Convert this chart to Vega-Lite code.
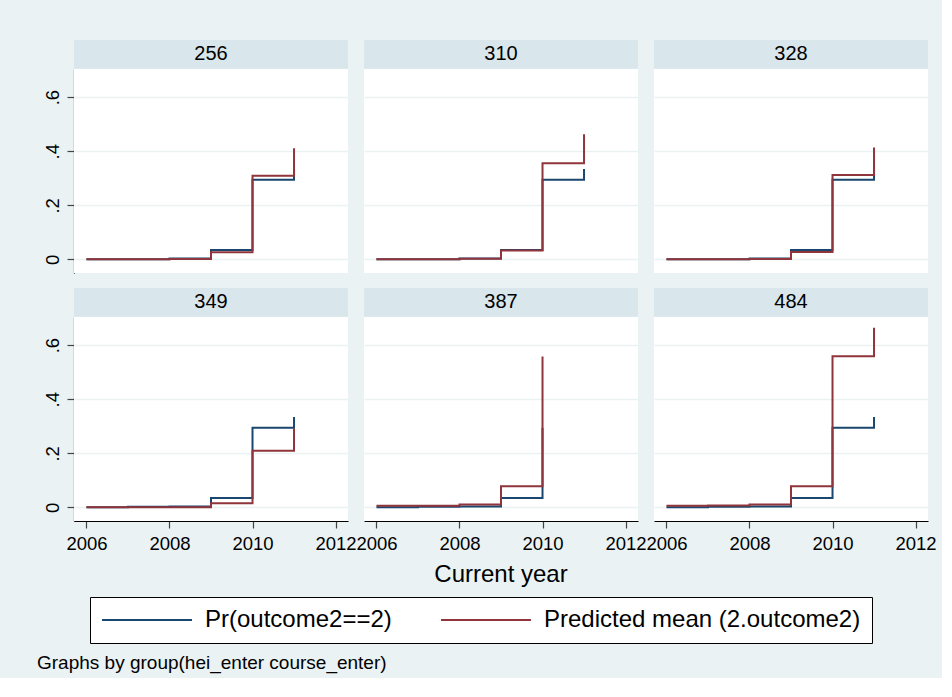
{
  "$schema": "https://vega.github.io/schema/vega-lite/v6.json",
  "background": "#EAF2F3",
  "padding": {"left": 37, "top": 30, "right": 5, "bottom": 5},
  "title": {"text": "Graphs by group(hei_enter course_enter)", "orient": "bottom", "anchor": "start", "frame": "bounds", "font": "Liberation Sans", "fontSize": 19, "fontWeight": "normal", "color": "black", "offset": 10, "dx": -6},
  "data": {"values": [
    {"group": "256", "year": 2006, "series": "Pr(outcome2==2)", "value": 0.001},
    {"group": "256", "year": 2007, "series": "Pr(outcome2==2)", "value": 0.001},
    {"group": "256", "year": 2008, "series": "Pr(outcome2==2)", "value": 0.004},
    {"group": "256", "year": 2009, "series": "Pr(outcome2==2)", "value": 0.035},
    {"group": "256", "year": 2010, "series": "Pr(outcome2==2)", "value": 0.295},
    {"group": "256", "year": 2011, "series": "Pr(outcome2==2)", "value": 0.334},
    {"group": "256", "year": 2006, "series": "Predicted mean (2.outcome2)", "value": 0.001},
    {"group": "256", "year": 2007, "series": "Predicted mean (2.outcome2)", "value": 0.001},
    {"group": "256", "year": 2008, "series": "Predicted mean (2.outcome2)", "value": 0.002},
    {"group": "256", "year": 2009, "series": "Predicted mean (2.outcome2)", "value": 0.027},
    {"group": "256", "year": 2010, "series": "Predicted mean (2.outcome2)", "value": 0.309},
    {"group": "256", "year": 2011, "series": "Predicted mean (2.outcome2)", "value": 0.411},
    {"group": "310", "year": 2006, "series": "Pr(outcome2==2)", "value": 0.001},
    {"group": "310", "year": 2007, "series": "Pr(outcome2==2)", "value": 0.001},
    {"group": "310", "year": 2008, "series": "Pr(outcome2==2)", "value": 0.004},
    {"group": "310", "year": 2009, "series": "Pr(outcome2==2)", "value": 0.035},
    {"group": "310", "year": 2010, "series": "Pr(outcome2==2)", "value": 0.295},
    {"group": "310", "year": 2011, "series": "Pr(outcome2==2)", "value": 0.334},
    {"group": "310", "year": 2006, "series": "Predicted mean (2.outcome2)", "value": 0.001},
    {"group": "310", "year": 2007, "series": "Predicted mean (2.outcome2)", "value": 0.001},
    {"group": "310", "year": 2008, "series": "Predicted mean (2.outcome2)", "value": 0.003},
    {"group": "310", "year": 2009, "series": "Predicted mean (2.outcome2)", "value": 0.033},
    {"group": "310", "year": 2010, "series": "Predicted mean (2.outcome2)", "value": 0.356},
    {"group": "310", "year": 2011, "series": "Predicted mean (2.outcome2)", "value": 0.463},
    {"group": "328", "year": 2006, "series": "Pr(outcome2==2)", "value": 0.001},
    {"group": "328", "year": 2007, "series": "Pr(outcome2==2)", "value": 0.001},
    {"group": "328", "year": 2008, "series": "Pr(outcome2==2)", "value": 0.004},
    {"group": "328", "year": 2009, "series": "Pr(outcome2==2)", "value": 0.035},
    {"group": "328", "year": 2010, "series": "Pr(outcome2==2)", "value": 0.295},
    {"group": "328", "year": 2011, "series": "Pr(outcome2==2)", "value": 0.334},
    {"group": "328", "year": 2006, "series": "Predicted mean (2.outcome2)", "value": 0.001},
    {"group": "328", "year": 2007, "series": "Predicted mean (2.outcome2)", "value": 0.001},
    {"group": "328", "year": 2008, "series": "Predicted mean (2.outcome2)", "value": 0.002},
    {"group": "328", "year": 2009, "series": "Predicted mean (2.outcome2)", "value": 0.028},
    {"group": "328", "year": 2010, "series": "Predicted mean (2.outcome2)", "value": 0.312},
    {"group": "328", "year": 2011, "series": "Predicted mean (2.outcome2)", "value": 0.414},
    {"group": "349", "year": 2006, "series": "Pr(outcome2==2)", "value": 0.001},
    {"group": "349", "year": 2007, "series": "Pr(outcome2==2)", "value": 0.003},
    {"group": "349", "year": 2008, "series": "Pr(outcome2==2)", "value": 0.004},
    {"group": "349", "year": 2009, "series": "Pr(outcome2==2)", "value": 0.035},
    {"group": "349", "year": 2010, "series": "Pr(outcome2==2)", "value": 0.295},
    {"group": "349", "year": 2011, "series": "Pr(outcome2==2)", "value": 0.334},
    {"group": "349", "year": 2006, "series": "Predicted mean (2.outcome2)", "value": 0.001},
    {"group": "349", "year": 2007, "series": "Predicted mean (2.outcome2)", "value": 0.001},
    {"group": "349", "year": 2008, "series": "Predicted mean (2.outcome2)", "value": 0.001},
    {"group": "349", "year": 2009, "series": "Predicted mean (2.outcome2)", "value": 0.016},
    {"group": "349", "year": 2010, "series": "Predicted mean (2.outcome2)", "value": 0.21},
    {"group": "349", "year": 2011, "series": "Predicted mean (2.outcome2)", "value": 0.293},
    {"group": "387", "year": 2006, "series": "Pr(outcome2==2)", "value": 0.001},
    {"group": "387", "year": 2007, "series": "Pr(outcome2==2)", "value": 0.003},
    {"group": "387", "year": 2008, "series": "Pr(outcome2==2)", "value": 0.004},
    {"group": "387", "year": 2009, "series": "Pr(outcome2==2)", "value": 0.035},
    {"group": "387", "year": 2010, "series": "Pr(outcome2==2)", "value": 0.295},
    {"group": "387", "year": 2006, "series": "Predicted mean (2.outcome2)", "value": 0.006},
    {"group": "387", "year": 2007, "series": "Predicted mean (2.outcome2)", "value": 0.006},
    {"group": "387", "year": 2008, "series": "Predicted mean (2.outcome2)", "value": 0.011},
    {"group": "387", "year": 2009, "series": "Predicted mean (2.outcome2)", "value": 0.078},
    {"group": "387", "year": 2010, "series": "Predicted mean (2.outcome2)", "value": 0.558},
    {"group": "484", "year": 2006, "series": "Pr(outcome2==2)", "value": 0.001},
    {"group": "484", "year": 2007, "series": "Pr(outcome2==2)", "value": 0.003},
    {"group": "484", "year": 2008, "series": "Pr(outcome2==2)", "value": 0.004},
    {"group": "484", "year": 2009, "series": "Pr(outcome2==2)", "value": 0.035},
    {"group": "484", "year": 2010, "series": "Pr(outcome2==2)", "value": 0.295},
    {"group": "484", "year": 2011, "series": "Pr(outcome2==2)", "value": 0.334},
    {"group": "484", "year": 2006, "series": "Predicted mean (2.outcome2)", "value": 0.006},
    {"group": "484", "year": 2007, "series": "Predicted mean (2.outcome2)", "value": 0.007},
    {"group": "484", "year": 2008, "series": "Predicted mean (2.outcome2)", "value": 0.011},
    {"group": "484", "year": 2009, "series": "Predicted mean (2.outcome2)", "value": 0.078},
    {"group": "484", "year": 2010, "series": "Predicted mean (2.outcome2)", "value": 0.559},
    {"group": "484", "year": 2011, "series": "Predicted mean (2.outcome2)", "value": 0.664}
  ]},
  "facet": {
    "field": "group", "type": "nominal",
    "header": {"labels": false, "labelExpr": "''", "labelPadding": 0, "title": "Current year", "titleOrient": "bottom", "titleFont": "Liberation Sans", "titleFontSize": 24, "titleFontWeight": "normal", "titleColor": "black", "titlePadding": 10}
  },
  "columns": 3,
  "bounds": "flush",
  "spacing": {"row": 44, "column": 16},
  "spec": {
    "width": 274,
    "height": 204,
    "layer": [
      {
        "mark": {"type": "line", "interpolate": "step-after", "strokeWidth": 2},
        "encoding": {
          "x": {"field": "year", "type": "quantitative", "scale": {"domain": [2005.7, 2012.3], "nice": false, "zero": false},
                "axis": {"title": null, "values": [2006, 2008, 2010, 2012], "format": "d", "grid": false}},
          "y": {"field": "value", "type": "quantitative", "scale": {"domain": [-0.05, 0.704], "nice": false, "zero": false},
                "axis": {"title": null, "values": [0, 0.2, 0.4, 0.6], "labelExpr": "datum.value == 0 ? '0' : replace(format(datum.value, '.1f'), '0.', '.')", "grid": true}},
          "color": {"field": "series", "type": "nominal",
                    "scale": {"domain": ["Pr(outcome2==2)", "Predicted mean (2.outcome2)"], "range": ["#1A476F", "#90353B"]},
                    "legend": {"title": null, "orient": "none", "legendX": 16, "legendY": 528, "direction": "horizontal"}}
        }
      },
      {
        "transform": [{"filter": "datum.year == 2006 && datum.series == 'Pr(outcome2==2)'"}],
        "mark": {"type": "rect", "fill": "#D9E6EB", "stroke": null},
        "encoding": {
          "x": {"datum": 2005.7, "type": "quantitative"},
          "x2": {"datum": 2012.3},
          "y": {"datum": 0.7045, "type": "quantitative"},
          "y2": {"datum": 0.811}
        }
      },
      {
        "transform": [{"filter": "datum.year == 2006 && datum.series == 'Pr(outcome2==2)'"}],
        "mark": {"type": "text", "font": "Liberation Sans", "fontSize": 20, "color": "black", "baseline": "middle", "align": "center"},
        "encoding": {
          "x": {"datum": 2009, "type": "quantitative"},
          "y": {"datum": 0.758, "type": "quantitative"},
          "text": {"field": "group", "type": "nominal"}
        }
      }
    ]
  },
  "config": {
    "view": {"fill": "white", "stroke": null},
    "axis": {"domainColor": "black", "domainWidth": 1.2, "tickColor": "#444", "tickSize": 7, "tickWidth": 1.2,
             "labelFont": "Liberation Sans", "labelFontSize": 18.5, "labelColor": "black", "labelPadding": 4,
             "gridColor": "#EAF2F3", "gridWidth": 1.5},
    "axisY": {"labelAngle": 270, "labelAlign": "center", "labelBaseline": "bottom", "labelPadding": 5},
    "axisX": {"labelPadding": 6},
    "legend": {"symbolType": "M-1,0H7.18", "symbolSize": 484, "symbolStrokeWidth": 2, "labelFont": "Liberation Sans", "labelFontSize": 24, "labelColor": "black",
               "labelLimit": 0, "labelOffset": 80, "columnPadding": 45, "padding": 11, "strokeColor": "black", "fillColor": "white", "cornerRadius": 0}
  }
}
